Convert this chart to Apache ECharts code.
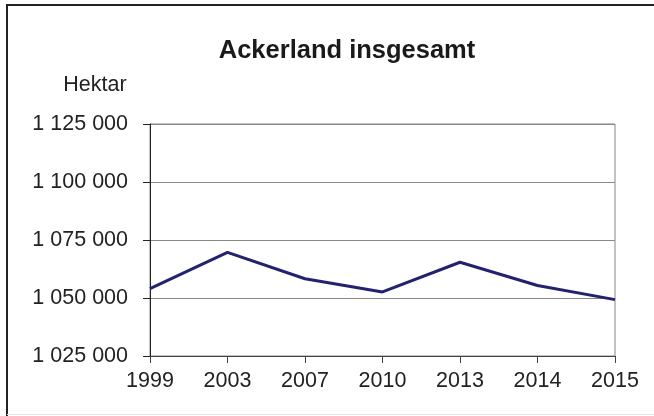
<!DOCTYPE html>
<html>
<head>
<meta charset="utf-8">
<script src="https://cdn.jsdelivr.net/npm/echarts@6/dist/echarts.min.js"></script>
<style>
  html, body { margin: 0; padding: 0; background: #fff; }
  #main { width: 654px; height: 416px; }
</style>
</head>
<body>
<div id="main"></div>
<script>
// Daten
const years = ["1999", "2003", "2007", "2010", "2013", "2014", "2015"];
const ackerland = [1054000, 1069700, 1058300, 1052600, 1065400, 1055400, 1049300];
const yTicks = [1025000, 1050000, 1075000, 1100000, 1125000];

const FONT = "'Liberation Sans', Arial, sans-serif";

// 1125000 -> "1 125 000"
function fmt(v) {
  return String(v).replace(/\B(?=(\d{3})+(?!\d))/g, " ");
}

const chart = echarts.init(document.getElementById("main"));
chart.setOption({
  animation: false,
  title: {
    text: "Ackerland insgesamt",
    left: 342,
    textAlign: "center",
    top: 33,
    textStyle: { fontFamily: FONT, fontSize: 25.5, fontWeight: "bold", color: "#1a1a1a" },
  },
  grid: {
    left: 150,
    right: 39,
    top: 124,
    bottom: 60,
    show: true,
    borderColor: "#888",
    borderWidth: 1,
  },
  xAxis: {
    type: "category",
    data: years,
    boundaryGap: false,
    axisLine: { lineStyle: { color: "#444", width: 1 } },
    axisTick: { show: true, length: 7, lineStyle: { color: "#444" } },
    axisLabel: { margin: 14, fontFamily: FONT, fontSize: 21.5, color: "#222" },
  },
  yAxis: {
    type: "value",
    min: yTicks[0],
    max: yTicks[yTicks.length - 1],
    interval: 25000,
    name: "Hektar",
    nameLocation: "end",
    nameGap: 28,
    nameTextStyle: { fontFamily: FONT, fontSize: 21.5, color: "#222", align: "center", padding: [0, 110, 0, 0] },
    axisLine: { show: true, lineStyle: { color: "#222", width: 1 } },
    axisTick: { show: true, length: 7, lineStyle: { color: "#222" } },
    axisLabel: { margin: 22, fontFamily: FONT, fontSize: 21.5, color: "#222", formatter: fmt },
    splitLine: { lineStyle: { color: "#888", width: 1 } },
  },
  series: [
    {
      type: "line",
      data: ackerland,
      symbol: "none",
      lineStyle: { color: "#22226e", width: 3 },
    },
  ],
  graphic: [
    {
      type: "polyline",
      shape: { points: [[7, 416], [7, 5], [654, 5]] },
      style: { stroke: "#222", lineWidth: 2, fill: null },
    },
    {
      type: "line",
      shape: { x1: 7, y1: 414.5, x2: 654, y2: 414.5 },
      style: { stroke: "#e4e4e4", lineWidth: 1 },
    },
  ],
});
</script>
</body>
</html>
